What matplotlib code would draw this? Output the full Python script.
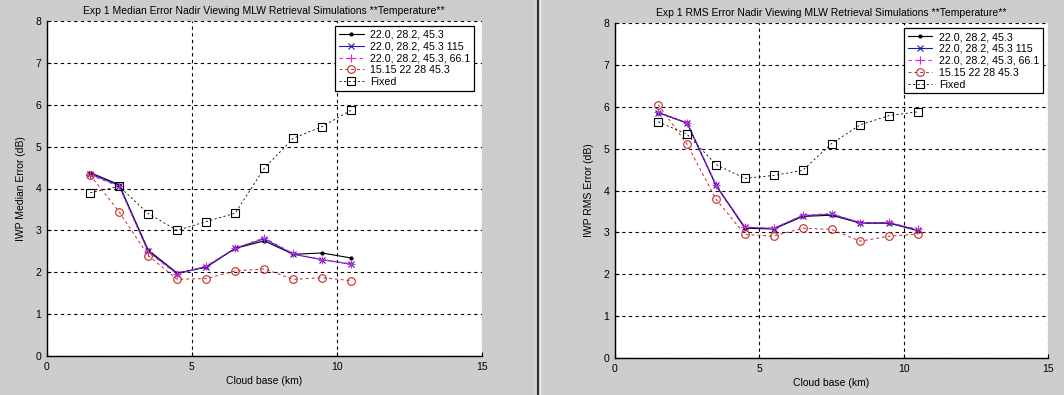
import matplotlib
matplotlib.use("Agg")
import matplotlib.pyplot as plt
from matplotlib.lines import Line2D

plt.rcParams['font.family'] = ['Liberation Sans', 'DejaVu Sans']

cloud_base = [1.5, 2.5, 3.5, 4.5, 5.5, 6.5, 7.5, 8.5, 9.5, 10.5]
labels = ["22.0, 28.2, 45.3", "22.0, 28.2, 45.3 115", "22.0, 28.2, 45.3, 66.1",
          "15.15 22 28 45.3", "Fixed"]

# Median error (left)
med_a = [4.38, 4.09, 2.53, 1.98, 2.12, 2.57, 2.75, 2.43, 2.46, 2.34]
med_b = [4.35, 4.07, 2.50, 1.97, 2.13, 2.57, 2.80, 2.43, 2.30, 2.19]
med_c = [4.32, 4.05, 2.48, 1.95, 2.15, 2.58, 2.82, 2.45, 2.30, 2.20]
med_d = [4.32, 3.44, 2.40, 1.83, 1.85, 2.03, 2.08, 1.83, 1.87, 1.80]
med_fixed = [3.90, 4.05, 3.40, 3.00, 3.21, 3.41, 4.48, 5.20, 5.48, 5.87]

# RMS error (right)
rms_a = [5.86, 5.61, 4.12, 3.10, 3.08, 3.38, 3.41, 3.22, 3.22, 3.04]
rms_b = [5.86, 5.61, 4.12, 3.12, 3.09, 3.40, 3.43, 3.23, 3.23, 3.05]
rms_c = [5.87, 5.62, 4.14, 3.13, 3.10, 3.41, 3.45, 3.23, 3.24, 3.07]
rms_d = [6.05, 5.10, 3.79, 2.95, 2.91, 3.10, 3.07, 2.79, 2.91, 2.96]
rms_fixed = [5.64, 5.34, 4.62, 4.29, 4.36, 4.48, 5.12, 5.57, 5.79, 5.88]

W, H = 1064, 395
fig = plt.figure(figsize=(W / 100, H / 100), dpi=100)
fig.patch.set_facecolor('#cdcccf')

FS = 7.5
LFS = 7.7


def make_axes(px_left, px_right, px_top, px_bottom):
    return fig.add_axes([px_left / W, (H - px_bottom) / H,
                         (px_right - px_left) / W, (px_bottom - px_top) / H])


def draw(ax, sers, title, ylabel, anchor):
    ax.set_facecolor('white')
    a, b, c, d, f = sers
    ax.plot(cloud_base, a, color='black', lw=0.8, marker='.', ms=4, label=labels[0])
    ax.plot(cloud_base, b, color='#1c1ca8', lw=0.8, marker='x', ms=4.5, mew=0.8, label=labels[1])
    ax.plot(cloud_base, c, color='#e020e8', lw=0.8, ls=(0, (3, 3)), marker='+', ms=6, mew=0.8, label=labels[2])
    ax.plot(cloud_base, d, color='#c82828', lw=0.7, ls=(0, (3, 3)), marker='o', ms=5.5, mfc='none', mew=0.8, label=labels[3])
    ax.plot(cloud_base, f, color='black', lw=0.6, ls=(0, (2.5, 3)), marker='s', ms=5.5, mfc='none', mew=0.8, label=labels[4])
    ax.set_xlim(0, 15)
    ax.set_ylim(0, 8)
    ax.set_xticks([0, 5, 10, 15])
    ax.set_yticks(range(0, 9))
    ax.grid(True, color='black', ls=(0, (3, 3)), lw=0.8)
    ax.set_axisbelow(True)
    for s in ['top', 'right']:
        ax.spines[s].set_visible(False)
    for s in ['left', 'bottom']:
        ax.spines[s].set_linewidth(1.0)
        ax.spines[s].set_zorder(5)
    ax.tick_params(direction='in', length=3, labelsize=FS, pad=4)
    ax.set_title(title, fontsize=FS, pad=5)
    ax.set_xlabel('Cloud base (km)', fontsize=FS, labelpad=3)
    ax.set_ylabel(ylabel, fontsize=FS, labelpad=7)
    leg = ax.legend(loc='upper right', bbox_to_anchor=anchor, fontsize=LFS,
                    frameon=True, fancybox=False, framealpha=1, edgecolor='black',
                    borderpad=0.35, labelspacing=0.18, handlelength=2.3,
                    handletextpad=0.6, borderaxespad=0.0)
    leg.get_frame().set_linewidth(0.9)
    leg.set_zorder(10)


ax1 = make_axes(46.7, 481.7, 21, 356)
draw(ax1, [med_a, med_b, med_c, med_d, med_fixed],
     'Exp 1 Median Error Nadir Viewing MLW Retrieval Simulations **Temperature**',
     'IWP Median Error (dB)', ((474 - 46.7) / 435, 1 - 4.7 / 335))

ax2 = make_axes(615, 1048, 23, 358)
draw(ax2, [rms_a, rms_b, rms_c, rms_d, rms_fixed],
     'Exp 1 RMS Error Nadir Viewing MLW Retrieval Simulations **Temperature**',
     'IWP RMS Error (dB)', ((1042.7 - 615) / 433, 1 - 5.3 / 335))

# separator between the two windows
fig.add_artist(Line2D([537.5 / W] * 2, [0, 1], color='#111111', lw=1.2, transform=fig.transFigure))
fig.add_artist(Line2D([539.5 / W] * 2, [0, 1], color='#ececec', lw=1.0, transform=fig.transFigure))
fig.add_artist(Line2D([533.5 / W] * 2, [0, 1], color='#dadada', lw=1.0, transform=fig.transFigure))

fig.savefig('out.png', dpi=100, facecolor=fig.get_facecolor())
